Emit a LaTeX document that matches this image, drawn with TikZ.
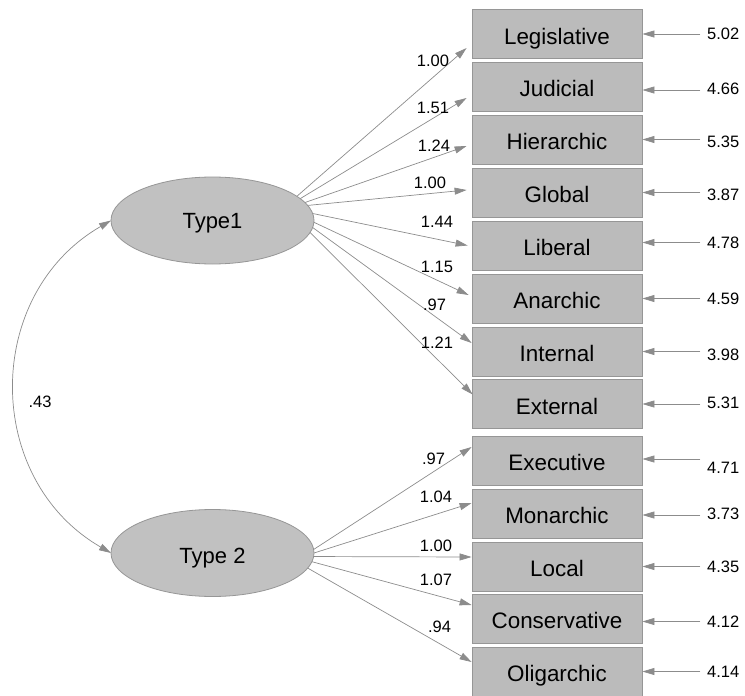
\documentclass[tikz,border=0pt]{standalone}
\usepackage{fontspec}
\setmainfont{Liberation Sans}
\usetikzlibrary{arrows.meta,calc,shapes.geometric}
\definecolor{linegray}{RGB}{140,140,140}
\definecolor{edgegray}{RGB}{150,150,150}
\definecolor{boxfill}{RGB}{187,187,187}
\definecolor{latentfill}{RGB}{193,193,193}

\begin{document}
\begin{tikzpicture}[x=1pt,y=1pt,
  observed/.style={rectangle, draw=edgegray, fill=boxfill, line width=0.8pt,
    minimum width=170pt, minimum height=49pt, inner sep=0pt,
    text height=20pt, text depth=0pt,
    font=\fontsize{22.4}{24}\selectfont},
  latent/.style={ellipse, draw=edgegray, fill=latentfill, line width=0.8pt,
    minimum width=203pt, minimum height=87pt, inner sep=0pt, outer sep=0pt,
    text depth=0pt, font=\fontsize{22}{24}\selectfont},
  loadarrow/.style={draw=linegray, line width=0.7pt,
    -{Triangle[length=12pt,width=7pt]}},
  corrarrow/.style={draw=linegray, line width=0.7pt,
    {Triangle[length=12pt,width=7pt]}-{Triangle[length=12pt,width=7pt]}},
  est/.style={inner sep=0pt, font=\fontsize{16.5}{18}\selectfont},
]
\useasboundingbox (0,0) rectangle (745,-696);

% latent factors
\node[latent, text height=16pt] (t1) at (212.5,-220.5) {Type1};
\node[latent, text height=20pt] (t2) at (212.5,-553) {Type 2};

% observed indicators
\node[observed] (leg) at (557,-34)    {Legislative};
\node[observed] (jud) at (557,-86.5)  {Judicial};
\node[observed] (hie) at (557,-139.5) {Hierarchic};
\node[observed] (glo) at (557,-192.5) {Global};
\node[observed] (lib) at (557,-245.5) {Liberal};
\node[observed] (ana) at (557,-298.5) {Anarchic};
\node[observed] (int) at (557,-351.5) {Internal};
\node[observed] (ext) at (557,-404)   {External};
\node[observed] (exe) at (557,-460.5) {Executive};
\node[observed] (mon) at (557,-513.5) {Monarchic};
\node[observed] (loc) at (557,-566.5) {Local};
\node[observed] (con) at (557,-618.5) {Conservative};
\node[observed] (oli) at (557,-671.5) {Oligarchic};

% factor loadings, Type1
\draw[loadarrow] (t1.16.6) -- ($(leg.west)+(-5,-14)$);
\draw[loadarrow] (t1.14.1) -- ($(jud.west)+(-5,-11.5)$);
\draw[loadarrow] (t1.11.9) -- ($(hie.west)+(-5,-6.5)$);
\draw[loadarrow] (t1.9.6)  -- ($(glo.west)+(-5,2.5)$);
\draw[loadarrow] (t1.4.2)  -- ($(lib.west)+(-4,0)$);
\draw[loadarrow] (t1.-1.4) -- ($(ana.west)+(-3,3.5)$);
\draw[loadarrow] (t1.-4.3) -- ($(int.west)+(0,8.5)$);
\draw[loadarrow] (t1.-7.2) -- ($(ext.west)+(1,9.5)$);

% factor loadings, Type 2
\draw[loadarrow] (t2.2.9)  -- ($(exe.west)+(0,13.5)$);
\draw[loadarrow] (t2.0.6)  -- ($(mon.west)+(0,10.5)$);
\draw[loadarrow] (t2.-2.2) -- ($(loc.west)+(0,9.5)$);
\draw[loadarrow] (t2.-5)   -- ($(con.west)+(0,13.5)$);
\draw[loadarrow] (t2.-9)   -- ($(oli.west)+(0,9.5)$);

% loading estimates
\node[est] (w1)  at (433,-61)   {1.00};
\node[est] (w2)  at (433,-108)  {1.51};
\node[est] (w3)  at (434,-146)  {1.24};
\node[est] (w4)  at (430,-183)  {1.00};
\node[est] (w5)  at (437,-222)  {1.44};
\node[est] (w6)  at (437,-267)  {1.15};
\node[est] (w7)  at (434.5,-305) {.97};
\node[est] (w8)  at (437,-342.5) {1.21};
\node[est] (w9)  at (433.5,-459) {.97};
\node[est] (w10) at (436,-497)  {1.04};
\node[est] (w11) at (436,-546)  {1.00};
\node[est] (w12) at (436,-580)  {1.07};
\node[est] (w13) at (439.5,-627) {.94};

% residual arrows and their values
\foreach \b/\dy/\ty/\v in {leg/0/-34/5.02, jud/-3.5/-89/4.66, hie/0/-141.5/5.35,
    glo/0/-195/3.87, lib/3/-242.5/4.78, ana/0/-299/4.59, int/0/-355/3.98,
    ext/0/-403/5.31, exe/1.5/-468/4.71, mon/-1.5/-514/3.73, loc/0/-567/4.35,
    con/-3/-622/4.12, oli/0/-672/4.14} {
  \coordinate (e-\b) at ($(\b.east)+(58,\dy)$);
  \draw[loadarrow] (e-\b) -- (e-\b -| \b.east);
  \node[est, anchor=west] (r-\b) at (707,\ty) {\v};
}

% factor covariance
\draw[corrarrow] (t1.west) to[bend right=60, looseness=1.14] (t2.west);
\node[est] (cov) at (40,-402) {.43};
\end{tikzpicture}
\end{document}
